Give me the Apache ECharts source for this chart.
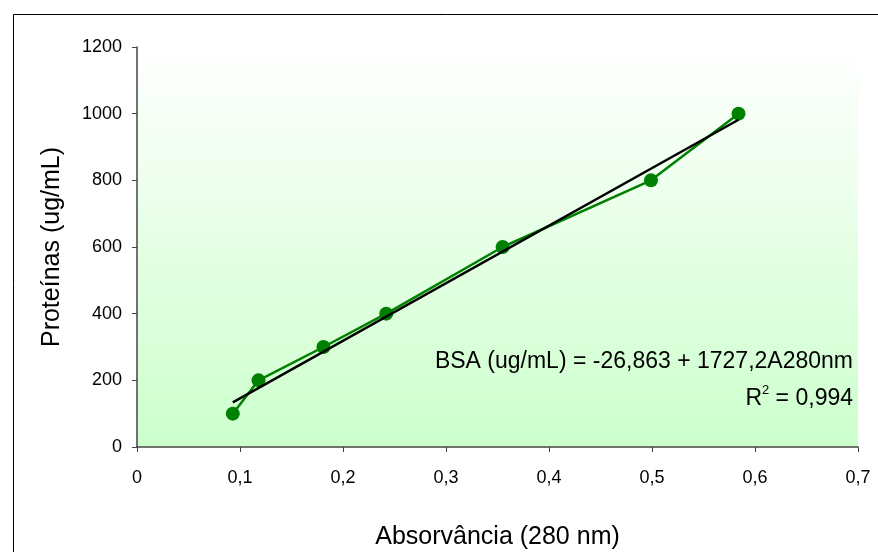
<!DOCTYPE html>
<html>
<head>
<meta charset="utf-8">
<script src="https://cdn.jsdelivr.net/npm/echarts@6/dist/echarts.min.js"></script>
<style>
  html, body { margin: 0; padding: 0; background: #fff; }
  #chart { width: 878px; height: 552px; }
</style>
</head>
<body>
<div id="chart"></div>
<script>
// absorbance readings (280 nm) and BSA standards
const absorbance = [0.093, 0.118, 0.181, 0.242, 0.355, 0.499, 0.584];
const protein = [100, 200, 300, 400, 600, 800, 1000];

// linear fit shown on the chart
const intercept = -26.863;
const slope = 1727.2;
const eqText = 'BSA (ug/mL) = -26,863 + 1727,2A280nm';
const r2Text = ' = 0,994';

const xTicks = [0, 0.7, 0.1];
const yTicks = [0, 1200, 200];

const font = 'Liberation Sans, Arial, sans-serif';
const comma = v => String(Math.round(v * 10) / 10).replace('.', ',');

const points = absorbance.map((x, i) => [x, protein[i]]);
const xMin = Math.min(...absorbance);
const xMax = Math.max(...absorbance);
const trend = [[xMin, intercept + slope * xMin], [xMax, intercept + slope * xMax]];

const chart = echarts.init(document.getElementById('chart'), null, { renderer: 'canvas' });
chart.setOption({
  animation: false,
  textStyle: { fontFamily: font },
  grid: {
    left: 137, top: 47, width: 721, height: 400,
    outerBoundsMode: 'none', containLabel: false,
    show: true, borderWidth: 0,
    backgroundColor: new echarts.graphic.LinearGradient(0, 0, 0, 1, [
      { offset: 0, color: '#ffffff' },
      { offset: 1, color: '#ccffcc' }
    ])
  },
  graphic: [
    {
      type: 'rect', left: 11, top: 12, silent: true,
      shape: { width: 900, height: 600 },
      style: { fill: 'none', stroke: '#000', lineWidth: 1 }
    },
    {
      type: 'text', right: 25, top: 350, silent: true,
      style: { text: eqText, font: '23px ' + font, fill: '#000', textAlign: 'right' }
    },
    {
      type: 'text', right: 25, top: 384, silent: true,
      style: {
        text: '{a|R}{s|2}{a|' + r2Text + '}',
        fill: '#000',
        rich: {
          a: { fontSize: 23, fontFamily: font, verticalAlign: 'bottom', lineHeight: 26 },
          s: { fontSize: 13, fontFamily: font, verticalAlign: 'top', lineHeight: 26 }
        }
      }
    }
  ],
  xAxis: {
    type: 'value',
    min: xTicks[0], max: xTicks[1], interval: xTicks[2],
    name: 'Absorvância (280 nm)',
    nameLocation: 'middle', nameGap: 78,
    nameTextStyle: { fontSize: 25, color: '#000', fontFamily: font },
    axisLine: { lineStyle: { color: '#444', width: 1.5 } },
    axisTick: { show: true, length: 5, inside: false, lineStyle: { color: '#444' } },
    axisLabel: { fontSize: 18, color: '#000', margin: 22, formatter: comma },
    splitLine: { show: false }
  },
  yAxis: {
    type: 'value',
    min: yTicks[0], max: yTicks[1], interval: yTicks[2],
    name: 'Proteínas (ug/mL)',
    nameLocation: 'middle', nameGap: 72, nameRotate: 90,
    nameTextStyle: { fontSize: 25, color: '#000', fontFamily: font },
    axisLine: { show: true, lineStyle: { color: '#444', width: 1.5 } },
    axisTick: { show: true, length: 5, inside: false, lineStyle: { color: '#444' } },
    axisLabel: { fontSize: 18, color: '#000', margin: 15, formatter: v => String(v) },
    splitLine: { show: false }
  },
  series: [
    {
      name: 'BSA',
      type: 'line',
      data: points,
      symbol: 'circle',
      symbolSize: 14,
      itemStyle: { color: '#008000' },
      lineStyle: { color: '#008000', width: 2.5 },
      z: 3
    },
    {
      name: 'Linear',
      type: 'line',
      data: trend,
      symbol: 'none',
      lineStyle: { color: '#000', width: 2.5 },
      z: 4
    }
  ]
});
</script>
</body>
</html>
